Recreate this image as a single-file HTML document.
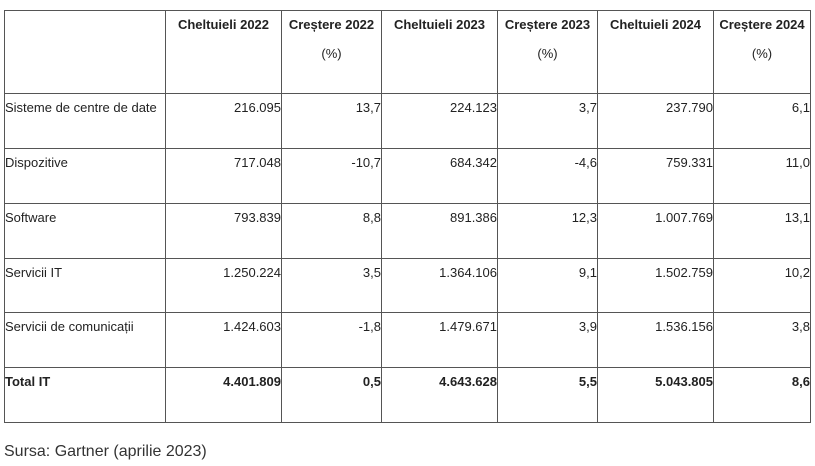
<!DOCTYPE html>
<html><head><meta charset="utf-8"><style>
body{margin:0;width:815px;height:466px;background:#fff;position:relative;font-family:"Liberation Sans",sans-serif;color:#222;overflow:hidden}
.v{position:absolute;top:10px;height:413px;width:1px;background:#555}
.h{position:absolute;left:4px;width:807px;height:1px;background:#555}
.t{position:absolute;font-size:13px;line-height:16px;white-space:nowrap}
.r{text-align:right}
.c{text-align:center}
.b{font-weight:bold}
</style></head><body>
<div class="v" style="left:4px"></div><div class="v" style="left:165px"></div><div class="v" style="left:281px"></div><div class="v" style="left:381px"></div><div class="v" style="left:497px"></div><div class="v" style="left:597px"></div><div class="v" style="left:713px"></div><div class="v" style="left:810px"></div>
<div class="h" style="top:10px"></div><div class="h" style="top:93px"></div><div class="h" style="top:148px"></div><div class="h" style="top:203px"></div><div class="h" style="top:258px"></div><div class="h" style="top:312px"></div><div class="h" style="top:367px"></div><div class="h" style="top:422px"></div>

<div class="t c b" style="left:166px;width:115px;top:17px">Cheltuieli 2022</div>
<div class="t c b" style="left:282px;width:99px;top:17px">Creștere 2022</div>
<div class="t c" style="left:282px;width:99px;top:46px">(%)</div>
<div class="t c b" style="left:382px;width:115px;top:17px">Cheltuieli 2023</div>
<div class="t c b" style="left:498px;width:99px;top:17px">Creștere 2023</div>
<div class="t c" style="left:498px;width:99px;top:46px">(%)</div>
<div class="t c b" style="left:598px;width:115px;top:17px">Cheltuieli 2024</div>
<div class="t c b" style="left:714px;width:96px;top:17px">Creștere 2024</div>
<div class="t c" style="left:714px;width:96px;top:46px">(%)</div>

<div id="rows"></div>
<script>
var d=[["Sisteme de centre de date","216.095","13,7","224.123","3,7","237.790","6,1",93],
["Dispozitive","717.048","-10,7","684.342","-4,6","759.331","11,0",148],
["Software","793.839","8,8","891.386","12,3","1.007.769","13,1",203],
["Servicii IT","1.250.224","3,5","1.364.106","9,1","1.502.759","10,2",258],
["Servicii de comunicații","1.424.603","-1,8","1.479.671","3,9","1.536.156","3,8",312],
["Total IT","4.401.809","0,5","4.643.628","5,5","5.043.805","8,6",367]];
var xs=[5,165,281,381,497,597,713,810],h="";
d.forEach(function(r,i){var y=r[7]+7,b=i==5?" b":"";
h+='<div class="t'+b+'" style="left:5px;top:'+y+'px">'+r[0]+'</div>';
for(var j=1;j<7;j++)h+='<div class="t r'+b+'" style="left:'+(xs[j]+1)+'px;width:'+(xs[j+1]-xs[j]-1)+'px;top:'+y+'px">'+r[j]+'</div>';});
document.getElementById("rows").innerHTML=h;
</script>
<div class="t" style="left:4px;top:442px;font-size:16px;line-height:20px;color:#333">Sursa: Gartner (aprilie 2023)</div>
</body></html>
